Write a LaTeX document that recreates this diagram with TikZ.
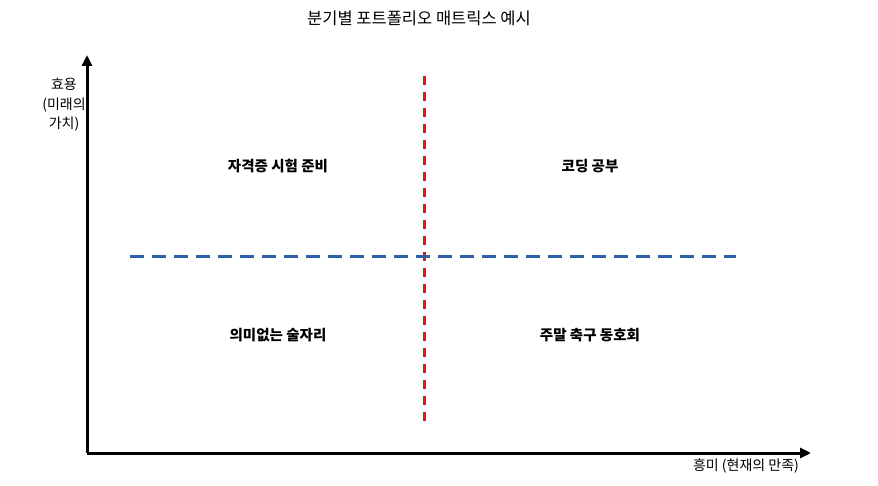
\documentclass[tikz,border=0pt]{standalone}
\usepackage{fontspec}
\setmainfont{Noto Sans CJK KR}
\usetikzlibrary{arrows.meta}
\begin{document}
\begin{tikzpicture}[x=1pt,y=-1pt,
  axis/.style={line width=3pt,-{Triangle[length=11pt,width=10pt]}},
  quad/.style={font=\fontsize{14.5pt}{17pt}\selectfont\bfseries},
  lbl/.style={font=\fontsize{14pt}{19.5pt}\selectfont},
  divider/.style={line width=3pt}]
\useasboundingbox (0,0) rectangle (878,486);
\node[font=\fontsize{16.5pt}{19pt}\selectfont] (title) at (419,18) {분기별 포트폴리오 매트릭스 예시};
\coordinate (o) at (87,453);
\coordinate (ytop) at (87,55);
\coordinate (xend) at (811,453);
\draw[axis] (o) -- (ytop);
\draw[axis] (o) -- (xend);
\coordinate (vt) at (424,76);
\coordinate (vb) at (424,425);
\coordinate (hl) at (130,257);
\coordinate (hr) at (736,257);
\draw[divider,dash pattern=on 9pt off 7pt,draw={rgb,255:red,230;green,20;blue,20}] (vt) -- (vb);
\draw[divider,dash pattern=on 14pt off 8pt,draw={rgb,255:red,46;green,96;blue,168}] (hl) -- (hr);
\node[lbl,align=center] (ylab) at (64,105) {효용\\(미래의\\가치)};
\node[lbl] (xlab) at (746,466) {흥미 (현재의 만족)};
\node[quad] (q1) at (278,166) {자격증 시험 준비};
\node[quad] (q2) at (590,166) {코딩 공부};
\node[quad] (q3) at (278,335) {의미없는 술자리};
\node[quad] (q4) at (590,335) {주말 축구 동호회};
\end{tikzpicture}
\end{document}
